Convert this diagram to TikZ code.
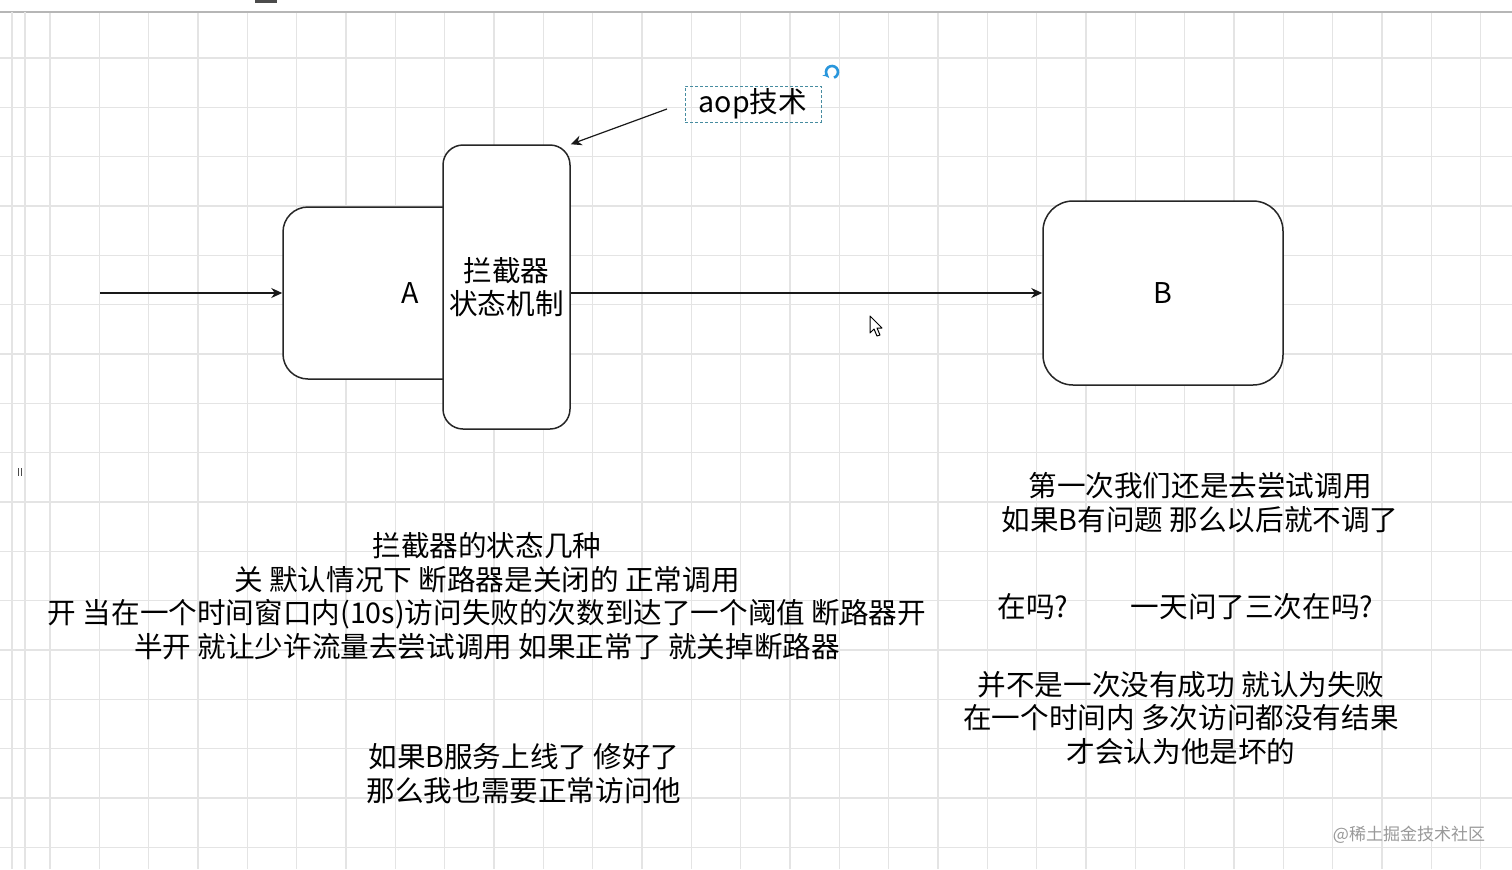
\documentclass[tikz,border=0pt]{standalone}
\usepackage{fontspec}
\setmainfont{Noto Sans CJK SC}
\usetikzlibrary{arrows.meta}
\definecolor{gridc}{RGB}{228,228,228}
\definecolor{aopc}{RGB}{70,140,160}
\definecolor{rotc}{RGB}{40,150,220}
\begin{document}
\begin{tikzpicture}[x=0.5pt,y=-0.5pt,
  gridline/.style={draw=gridc,line width=0.6pt},
  box/.style={draw=black!85,line width=0.75pt,fill=white,inner sep=0pt,font=\fontsize{14.3pt}{16.75pt}\selectfont},
  conn/.style={draw=black!90,line width=0.6pt,-{Stealth[length=5.5pt,width=5pt]}},
  txt/.style={align=center,inner sep=0pt,font=\fontsize{14.3pt}{16.75pt}\selectfont}]
\useasboundingbox (0,0) rectangle (1512,869);
\fill[white] (0,0) rectangle (1512,869);
% grid
\foreach \i in {0,...,29} \draw[gridline] ({50+49.33*\i},12) -- ({50+49.33*\i},869);
\foreach \j in {0,...,16} \draw[gridline] (0,{58+49.33*\j}) -- (1512,{58+49.33*\j});
\draw[gridc!80!black,line width=0.6pt] (0,12) -- (1512,12);
\draw[gridline] (12,12) -- (12,869);
\draw[gridline] (25,12) -- (25,869);
\fill[black!70] (255,0) rectangle (277,3);
% stray mark
\draw[black!70,line width=0.5pt] (18,468) -- (18,476) (21,468) -- (21,476);
% shapes
\node[box,rounded corners=12.5pt,minimum width=127pt,minimum height=86pt] (A) at (410,293) {A};
\node[box,rounded corners=10pt,minimum width=63.5pt,minimum height=142pt,align=center] (I) at (506.5,287) {拦截器\\状态机制};
\node[box,rounded corners=15pt,minimum width=120pt,minimum height=92pt] (B) at (1163,293) {B};
\node[draw=aopc,dash pattern=on 1.5pt off 1pt,line width=0.5pt,minimum width=68pt,minimum height=18pt,inner sep=0pt,font=\fontsize{14.3pt}{16.75pt}\selectfont] (aop) at (753,104) {aop技术};
% connectors
\coordinate (in) at (100,293);
\coordinate (aops) at (667,109);
\draw[conn] (in) -- (A.west);
\draw[conn] (I.east |- B.west) -- (B.west);
\draw[conn] (aops) -- (I.north east);
% rotate icon
\draw[rotc,line width=1.3pt,-{Stealth[length=2.5pt,width=3pt]}] (832,72) ++(70:6) arc[start angle=70,end angle=-230,radius=6];
% cursor
\draw[black,fill=white,line width=0.5pt,line join=round] (870,316) -- (870,333) -- (874,329) -- (877,336) -- (880,335) -- (877,328) -- (882,328) -- cycle;
% texts
\node[txt] (t1) at (487,596) {拦截器的状态几种\\关 默认情况下 断路器是关闭的 正常调用\\开 当在一个时间窗口内(10s)访问失败的次数到达了一个阈值 断路器开\\半开 就让少许流量去尝试调用 如果正常了 就关掉断路器};
\node[txt] (t2) at (524,773.5) {如果B服务上线了 修好了\\那么我也需要正常访问他};
\node[txt] (t3) at (1200,502.5) {第一次我们还是去尝试调用\\如果B有问题 那么以后就不调了};
\node[txt] (t4) at (1033,607) {在吗?};
\node[txt] (t5) at (1252,607) {一天问了三次在吗?};
\node[txt] (t6) at (1181,718) {并不是一次没有成功 就认为失败\\在一个时间内 多次访问都没有结果\\才会认为他是坏的};
\node[inner sep=0pt,text=black!40,font=\fontsize{8.5pt}{10pt}\selectfont] (wm) at (1409,835) {@稀土掘金技术社区};
\end{tikzpicture}
\end{document}
